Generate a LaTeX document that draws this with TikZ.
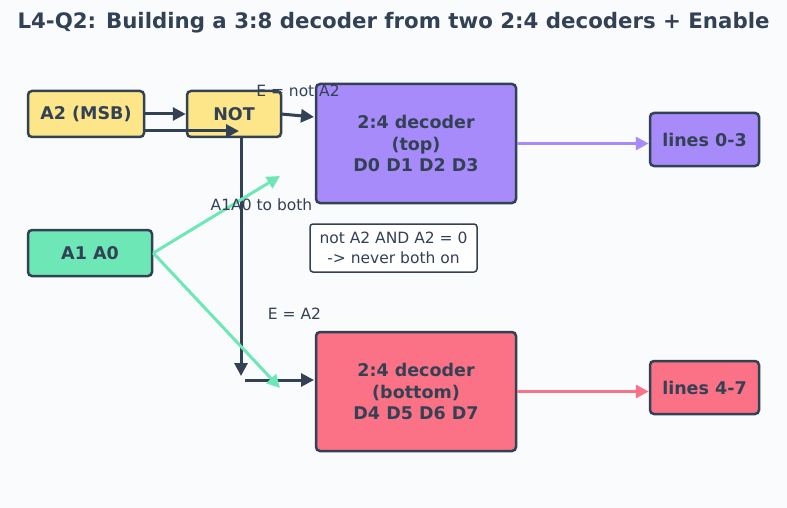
\documentclass[tikz,border=0pt]{standalone}
\usepackage{fontspec}
\setmainfont{DejaVu Sans}
\usetikzlibrary{arrows.meta,positioning,calc}
\definecolor{bg}{HTML}{FAFBFD}
\definecolor{ink}{HTML}{334155}
\definecolor{yel}{HTML}{FDE68A}
\definecolor{grn}{HTML}{6EE7B7}
\definecolor{pur}{HTML}{A78BFA}
\definecolor{pnk}{HTML}{FB7185}
\tikzset{
  box/.style={draw=ink, line width=2.5pt, rounded corners=4pt, inner sep=0pt,
    text=ink, font=\fontsize{17.5}{21.5}\selectfont\bfseries, align=center},
  note/.style={draw=ink, fill=white, line width=1.5pt, rounded corners=3pt, inner sep=0pt,
    text=ink, font=\fontsize{15.5}{19.5}\selectfont, align=center},
  lbl/.style={text=ink, font=\fontsize{15.5}{18}\selectfont, inner sep=0pt},
  wire/.style={draw=ink, line width=3pt, -{Triangle[length=13pt,width=13pt]}},
  gwire/.style={draw=grn, line width=3pt, -{Triangle[length=13pt,width=13pt]}},
  pwire/.style={draw=pur, line width=3pt, -{Triangle[length=13pt,width=13pt]}},
  rwire/.style={draw=pnk, line width=3pt, -{Triangle[length=13pt,width=13pt]}},
}
\begin{document}
\begin{tikzpicture}[x=1pt,y=-1pt]
\fill[bg] (0,0) rectangle (787,508);
\useasboundingbox (0,0) rectangle (787,508);

\node[text=ink, font=\fontsize{21.3}{24}\selectfont\bfseries, inner sep=0pt] (title) at (393.5,23)
  {L4-Q2: Building a 3:8 decoder from two 2:4 decoders + Enable};

\node[box, fill=yel, minimum width=116pt, minimum height=46pt] (a2) at (86,114) {A2 (MSB)};
\node[box, fill=yel, minimum width=94pt, minimum height=46pt] (not) at (234,114) {NOT};
\node[box, fill=grn, minimum width=124pt, minimum height=46pt] (a1) at (90,253) {A1 A0};
\node[box, fill=pur, minimum width=200pt, minimum height=119pt] (top) at (416,143.5)
  {2:4 decoder\\(top)\\D0 D1 D2 D3};
\node[box, fill=pnk, minimum width=200pt, minimum height=119pt] (bot) at (416,391.5)
  {2:4 decoder\\(bottom)\\D4 D5 D6 D7};
\node[box, fill=pur, minimum width=109pt, minimum height=53pt] (l03) at (704.5,139.5) {lines 0-3};
\node[box, fill=pnk, minimum width=109pt, minimum height=53pt] (l47) at (704.5,387.5) {lines 4-7};
\node[note, minimum width=167pt, minimum height=48pt] (nt) at (393.5,248)
  {not A2 AND A2 = 0\\-> never both on};

\coordinate (a2b) at (144,131);
\coordinate (nin) at (239,131);
\coordinate (vtop) at (241,137);
\coordinate (vbot) at (241,376);
\coordinate (hst) at (245,380);
\coordinate (nout) at (281,114);
\coordinate (tin) at (314,117);
\coordinate (bin) at (314,380);
\coordinate (gt) at (280,176);
\coordinate (gb) at (280,388);

\draw[wire] (a2.east) -- (not.west);
\draw[wire] (a2b) -- (nin);
\draw[wire] (vtop) -- (vbot);
\draw[wire] (hst) -- (bin);
\draw[wire] (nout) -- (tin);
\draw[gwire] (a1.east) -- (gt);
\draw[gwire] (a1.east) -- (gb);
\draw[pwire] (top.east) -- (l03.west |- top.east);
\draw[rwire] (bot.east) -- (l47.west |- bot.east);

\node[lbl] (e1) at (298,91) {E = not A2};
\node[lbl] (e2) at (261.5,205) {A1A0 to both};
\node[lbl] (e3) at (294.5,314) {E = A2};
\end{tikzpicture}
\end{document}
